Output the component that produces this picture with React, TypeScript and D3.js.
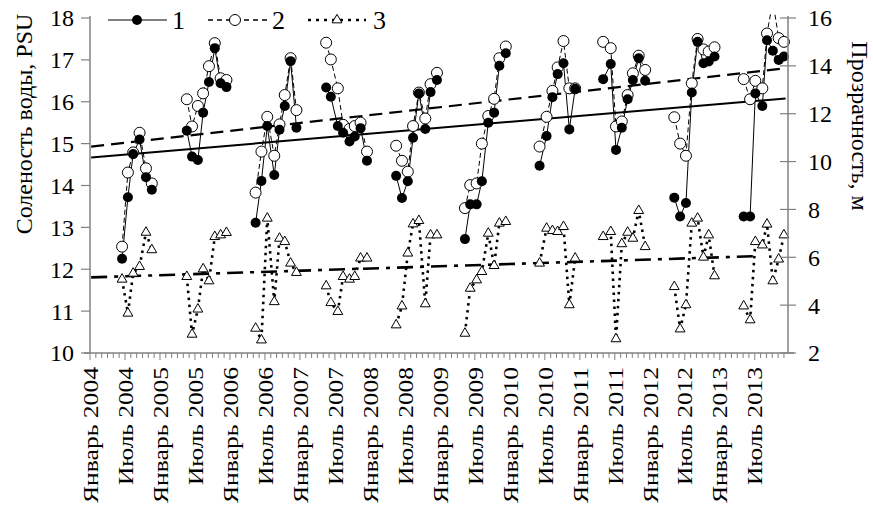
import React from 'react';
import * as d3 from 'd3';

// sampling dates as month index counted from January 2004
const months = [
  5.5, 6.5, 7.4, 8.5, 9.6, 10.6,
  16.6, 17.5, 18.5, 19.4, 20.4, 21.4, 22.4, 23.4,
  28.4, 29.4, 30.4, 31.6, 32.5, 33.4, 34.4, 35.4,
  40.5, 41.3, 42.5, 43.4, 44.5, 45.4, 46.4, 47.5,
  52.5, 53.5, 54.5, 55.4, 56.4, 57.5, 58.4, 59.5,
  64.3, 65.2, 66.3, 67.2, 68.3, 69.3, 70.2, 71.3,
  77.1, 78.3, 79.3, 80.2, 81.2, 82.2, 83.2,
  88.0, 89.3, 90.2, 91.2, 92.2, 93.1, 94.1, 95.2,
  100.2, 101.2, 102.2, 103.2, 104.2, 105.2, 106.1, 107.1,
  112.1, 113.2, 114.1, 115.3, 116.1, 117.1, 118.1, 119.0,
];
const season = [
  2004, 2004, 2004, 2004, 2004, 2004,
  2005, 2005, 2005, 2005, 2005, 2005, 2005, 2005,
  2006, 2006, 2006, 2006, 2006, 2006, 2006, 2006,
  2007, 2007, 2007, 2007, 2007, 2007, 2007, 2007,
  2008, 2008, 2008, 2008, 2008, 2008, 2008, 2008,
  2009, 2009, 2009, 2009, 2009, 2009, 2009, 2009,
  2010, 2010, 2010, 2010, 2010, 2010, 2010,
  2011, 2011, 2011, 2011, 2011, 2011, 2011, 2011,
  2012, 2012, 2012, 2012, 2012, 2012, 2012, 2012,
  2013, 2013, 2013, 2013, 2013, 2013, 2013, 2013,
];
const salinity1 = [
  12.25, 13.72, 14.75, 15.10, 14.20, 13.90,
  15.31, 14.69, 14.61, 15.74, 16.47, 17.28, 16.44, 16.35,
  13.11, 14.11, 15.42, 14.25, 15.33, 15.90, 16.97, 15.38,
  16.34, 16.12, 15.42, 15.26, 15.05, 15.17, 15.37, 14.59,
  14.23, 13.70, 14.10, 15.14, 16.20, 15.35, 16.23, 16.52,
  12.72, 13.55, 13.55, 14.10, 15.50, 15.74, 16.86, 17.16,
  14.47, 15.18, 16.11, 16.66, 16.92, 15.34, 16.31,
  16.54, 16.90, 14.85, 15.38, 16.06, 16.52, 17.04, 16.50,
  13.71, 13.26, 13.58, 16.22, 17.43, 16.92, 16.96, 17.08,
  13.26, 13.26, 16.20, 15.90, 17.47, 17.22, 17.00, 17.08,
];
const salinity2 = [
  12.54, 14.31, 14.79, 15.26, 14.41, 14.05,
  16.06, 15.41, 15.90, 16.20, 16.85, 17.40, 16.56, 16.52,
  13.83, 14.81, 15.64, 14.71, 15.46, 16.16, 17.04, 15.80,
  17.41, 17.01, 16.32, 15.45, 15.35, 15.42, 15.50, 14.81,
  14.95, 14.59, 14.33, 15.42, 16.22, 15.60, 16.42, 16.69,
  13.46, 14.01, 14.05, 15.00, 15.66, 16.07, 17.04, 17.32,
  14.93, 15.64, 16.26, 16.82, 17.45, 16.32, 16.32,
  17.43, 17.28, 15.41, 15.53, 16.16, 16.68, 17.10, 16.76,
  15.63, 15.00, 14.71, 16.44, 17.50, 17.25, 17.20, 17.30,
  16.54, 16.06, 16.50, 16.32, 17.63, 18.40, 17.52, 17.43,
];
const transparency = [
  5.08, 3.66, 5.33, 5.61, 7.04, 6.31,
  5.19, 2.78, 3.83, 5.51, 5.01, 6.86, 6.93, 7.03,
  3.03, 2.54, 7.63, 4.14, 6.79, 6.65, 5.75, 5.36,
  4.80, 4.10, 3.73, 5.19, 5.08, 5.19, 5.96, 5.96,
  3.17, 3.96, 6.17, 7.39, 7.53, 4.05, 6.93, 6.93,
  2.82, 4.70, 5.05, 5.40, 7.00, 5.65, 7.42, 7.49,
  5.75, 7.21, 7.11, 7.07, 7.28, 4.01, 5.96,
  6.86, 7.07, 2.59, 6.56, 7.04, 6.79, 7.95, 6.44,
  4.77, 3.00, 4.01, 7.42, 7.63, 6.00, 6.93, 5.22,
  3.96, 3.38, 6.65, 6.51, 7.38, 5.01, 5.92, 6.93,
];

// linear trends, [month, value] at both ends
const trend1 = [[0.2, 14.67], [119.3, 16.08]];
const trend2 = [[0.2, 14.93], [119.3, 16.8]];
const trend3 = [[0.2, 5.16], [114.5, 6.05]];

const years = [2004, 2005, 2006, 2007, 2008, 2009, 2010, 2011, 2012, 2013];
const halfYearNames = ['Январь', 'Июль'];
const salinityTicks = [10, 11, 12, 13, 14, 15, 16, 17, 18];
const transparencyTicks = [2, 4, 6, 8, 10, 12, 14, 16];

const W = 873, H = 506;
const m = { left: 90, right: 788, top: 18, bottom: 353 };
const font = '"Liberation Serif", "Times New Roman", serif';
const axisColor = '#808080';

const x = d3.scaleLinear().domain([0, 119.7]).range([m.left, m.right]);
const yL = d3.scaleLinear().domain([10, 18]).range([m.bottom, m.top]);
const yR = d3.scaleLinear().domain([2, 16]).range([m.bottom, m.top]);

const seasons = Array.from(new Set(season));
const idxOf = (s: number) => months.map((_, i) => i).filter(i => season[i] === s);

const tri = d3.symbol(d3.symbolTriangle, 42)() || '';

export default function App() {
  const line1 = d3.line<number>().x(i => x(months[i])).y(i => yL(salinity1[i]));
  const line2 = d3.line<number>().x(i => x(months[i])).y(i => yL(salinity2[i]));
  const line3 = d3.line<number>().x(i => x(months[i])).y(i => yR(transparency[i]));
  const trendL = d3.line<number[]>().x(d => x(d[0])).y(d => yL(d[1]));
  const trendR = d3.line<number[]>().x(d => x(d[0])).y(d => yR(d[1]));

  const monthTicks = d3.range(0, 120);
  const labels: { m: number; text: string; len: number }[] = [];
  years.forEach((yr, k) => {
    halfYearNames.forEach((name, h) =>
      labels.push({ m: k * 12 + h * 6, text: `${name} ${yr}`, len: h === 0 ? 136 : 118 }));
  });

  return (
    <div style={{ position: 'absolute', left: 0, top: 0 }}>
      <svg width={W} height={H} style={{ display: 'block', background: '#fff' }} fontFamily={font}>
        <defs>
          <clipPath id="plot">
            <rect x={0} y={12} width={W} height={H - 12} />
          </clipPath>
        </defs>
        <g clipPath="url(#plot)">
          {/* series 3: transparency */}
          {seasons.map(s => (
            <path key={'l3' + s} d={line3(idxOf(s)) || ''} fill="none" stroke="#000"
              strokeWidth={2.6} strokeDasharray="2.5,4.5" />
          ))}
          {/* trend lines */}
          <path d={trendR(trend3) || ''} fill="none" stroke="#000" strokeWidth={2.6} strokeDasharray="16,7,4,7" />
          <path d={trendL(trend1) || ''} fill="none" stroke="#000" strokeWidth={2} />
          <path d={trendL(trend2) || ''} fill="none" stroke="#000" strokeWidth={2.2} strokeDasharray="13,7" />

          {/* series 2 and 1 lines */}
          {seasons.map(s => (
            <path key={'l2' + s} d={line2(idxOf(s)) || ''} fill="none" stroke="#000"
              strokeWidth={1} strokeDasharray="5,3" />
          ))}
          {seasons.map(s => (
            <path key={'l1' + s} d={line1(idxOf(s)) || ''} fill="none" stroke="#000" strokeWidth={1} />
          ))}

          {/* markers */}
          {months.map((mo, i) => (
            <path key={'t' + i} d={tri} transform={`translate(${x(mo)},${yR(transparency[i])})`}
              fill="#fff" stroke="#000" strokeWidth={1} />
          ))}
          {months.map((mo, i) => (
            <circle key={'c2' + i} cx={x(mo)} cy={yL(salinity2[i])} r={5.5} fill="#fff" stroke="#000" strokeWidth={1} />
          ))}
          {months.map((mo, i) => (
            <circle key={'c1' + i} cx={x(mo)} cy={yL(salinity1[i])} r={5} fill="#000" />
          ))}
        </g>

        {/* axes */}
        <line x1={m.left} x2={m.left} y1={m.top - 2} y2={m.bottom} stroke={axisColor} strokeWidth={1.5} />
        <line x1={m.right} x2={m.right} y1={m.top - 2} y2={m.bottom} stroke={axisColor} strokeWidth={1.5} />
        <line x1={m.left - 6} x2={m.right + 6} y1={m.bottom} y2={m.bottom} stroke={axisColor} strokeWidth={1.5} />
        {monthTicks.map(t => (
          <line key={'mt' + t} x1={x(t)} x2={x(t)} y1={m.bottom} y2={m.bottom + (t % 6 === 0 ? 7 : 5)}
            stroke={axisColor} strokeWidth={1} />
        ))}
        {salinityTicks.map(t => (
          <g key={'yl' + t}>
            <line x1={m.left - 9} x2={m.left} y1={yL(t)} y2={yL(t)} stroke={axisColor} strokeWidth={1.2} />
            <text x={m.left - 16} y={yL(t)} dy="0.35em" textAnchor="end" fontSize={24}>{t}</text>
          </g>
        ))}
        {transparencyTicks.map(t => (
          <g key={'yr' + t}>
            <line x1={m.right - 8} x2={m.right + 8} y1={yR(t)} y2={yR(t)} stroke={axisColor} strokeWidth={1.2} />
            <text x={m.right + 20} y={yR(t)} dy="0.35em" textAnchor="start" fontSize={24}>{t}</text>
          </g>
        ))}
        {labels.map(l => (
          <text key={l.text} transform={`translate(${x(l.m)},${m.bottom + 14}) rotate(-90)`}
            dy="0.35em" textAnchor="end" fontSize={22} textLength={l.len}
            lengthAdjust="spacingAndGlyphs">{l.text}</text>
        ))}
        <text transform="translate(24,124) rotate(-90)" textAnchor="middle"
          dy="0.35em" fontSize={24}>Соленость воды, PSU</text>
        <text transform="translate(860,126) rotate(90)" textAnchor="middle"
          dy="0.35em" fontSize={24}>Прозрачность, м</text>

        {/* legend */}
        <g>
          <line x1={108} x2={167} y1={20} y2={20} stroke="#000" strokeWidth={1} />
          <circle cx={137} cy={20} r={5} fill="#000" />
          <text x={172} y={20} dy="0.35em" fontSize={26}>1</text>
          <line x1={208} x2={267} y1={20} y2={20} stroke="#000" strokeWidth={1.5} strokeDasharray="5,4" />
          <circle cx={235} cy={20} r={5.5} fill="#fff" stroke="#000" strokeWidth={1} />
          <text x={272} y={20} dy="0.35em" fontSize={26}>2</text>
          <line x1={308} x2={366} y1={20} y2={20} stroke="#000" strokeWidth={2.6} strokeDasharray="3,5" />
          <path d={tri} transform="translate(337,20)" fill="#fff" stroke="#000" strokeWidth={1} />
          <text x={373} y={20} dy="0.35em" fontSize={26}>3</text>
        </g>
      </svg>
    </div>
  );
}
